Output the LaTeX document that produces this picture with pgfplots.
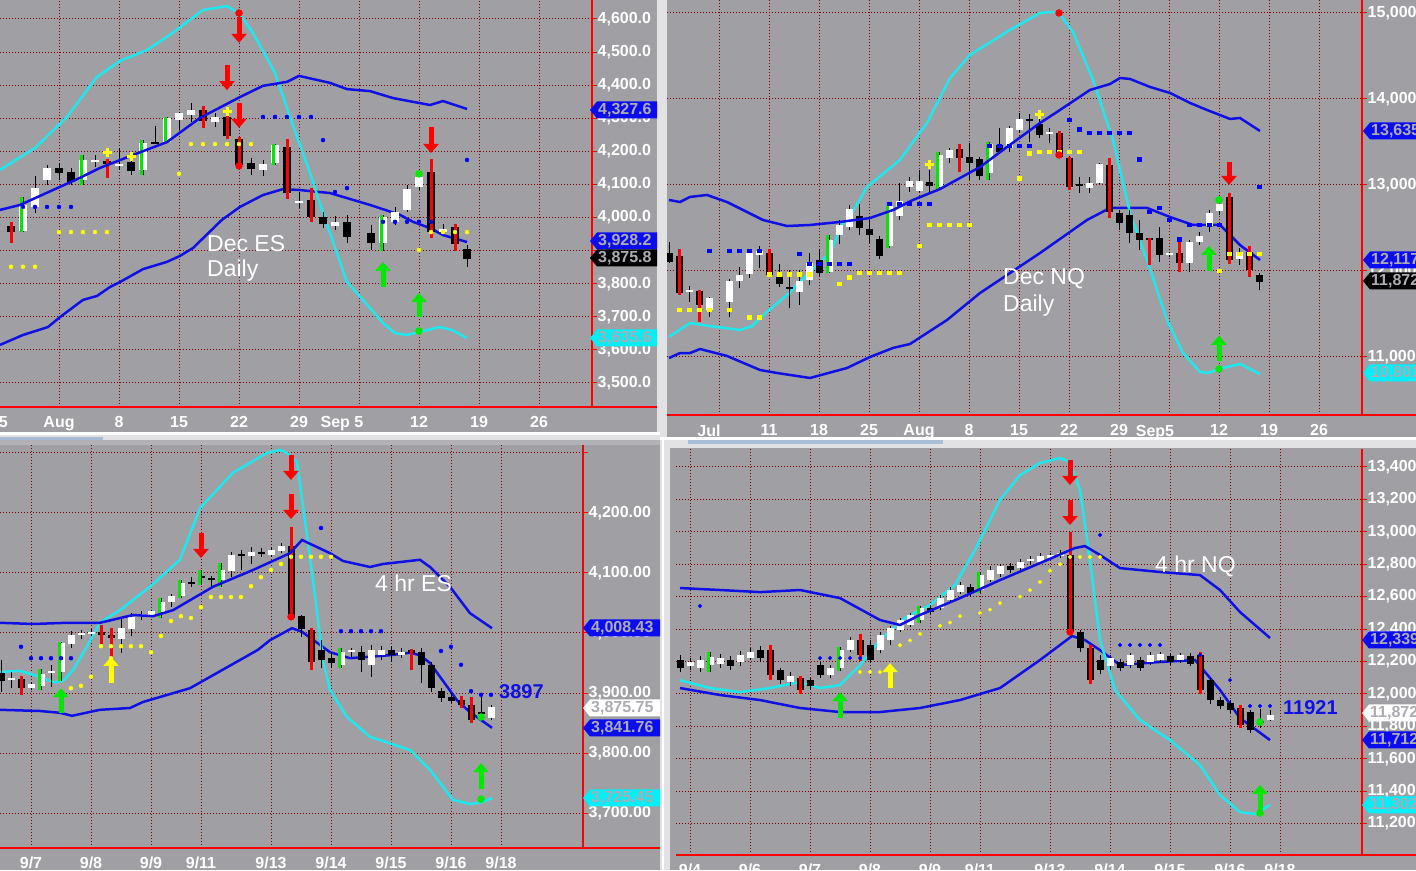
\documentclass[border=0pt]{standalone}
\usepackage{pgfplots}
\pgfplotsset{compat=1.18}
\usepackage{pgfplotstable}
\usepackage{fontspec}
\setmainfont{Liberation Sans}
\usetikzlibrary{arrows.meta}

\definecolor{bgc}{RGB}{160,160,164}
\definecolor{gridred}{RGB}{128,0,0}
\definecolor{bandblue}{RGB}{16,16,228}
\definecolor{bandcyan}{RGB}{30,232,238}
\definecolor{sigred}{RGB}{255,0,0}
\definecolor{siggreen}{RGB}{0,232,0}
\definecolor{dotblue}{RGB}{0,0,255}
\definecolor{dotyel}{RGB}{255,255,0}
\definecolor{sepc}{RGB}{226,226,228}
\definecolor{edge}{RGB}{178,178,182}
\definecolor{tagtxt}{RGB}{172,172,178}
\definecolor{tagblue}{RGB}{12,12,240}
\definecolor{tagcyan}{RGB}{0,240,250}
\definecolor{scroll}{RGB}{168,190,214}

\newcommand\lab{\fontsize{16}{18}\selectfont\bfseries}
\newcommand\ann{\fontsize{23}{26}\selectfont}
\newcommand\tgt{\fontsize{20}{22}\selectfont\bfseries}

% candles: x open high low close, s = 1 red signal wick, 2 green signal wick
\pgfplotstableread{
x o h l c s
-4 3974 3987 3923 3956 1
-3 3959 4062 3956 4038 2
-2 4032 4126 4014 4089 0
-1 4113 4159 4098 4150 0
0 4150 4165 4113 4135 0
1 4138 4150 4098 4107 0
2 4113 4189 4098 4174 2
3 4168 4189 4153 4174 0
4 4171 4177 4120 4162 1
5 4156 4210 4144 4162 0
6 4168 4180 4129 4141 0
7 4144 4234 4129 4225 2
8 4228 4277 4222 4222 0
9 4228 4304 4225 4301 2
10 4295 4319 4265 4316 0
11 4310 4346 4289 4325 0
12 4325 4337 4271 4292 1
13 4289 4316 4274 4304 0
14 4304 4331 4237 4246 1
15 4237 4243 4153 4159 1
16 4165 4180 4129 4147 0
17 4144 4174 4126 4162 0
18 4165 4222 4159 4219 2
19 4213 4237 4056 4074 1
20 4044 4077 4029 4050 0
21 4053 4089 3987 4002 1
22 4001 4017 3968 3979 0
23 3974 4005 3962 3987 0
24 3987 4008 3923 3941 0
26 3953 3977 3902 3923 0
27 3923 4008 3899 4002 2
28 3987 4032 3977 4017 0
29 4023 4098 4017 4086 0
30 4092 4132 4083 4123 0
31 4138 4177 3938 3956 1
32 3956 3980 3950 3965 0
33 3971 3980 3899 3920 1
34 3905 3917 3851 3876 0
}\esday

\pgfplotstableread{
x o h l c s
-4 12209 12337 12093 12105 0
-3 12174 12256 11721 11744 1
-2 11758 11826 11640 11778 0
-1 11767 11779 11407 11605 1
0 11547 11698 11465 11686 0
2 11640 11907 11465 11884 0
3 11884 12047 11802 11953 0
4 11965 12256 11919 12209 0
5 12186 12291 12035 12233 0
6 12209 12256 11930 11953 1
7 11930 12082 11814 11849 0
8 11812 12012 11570 11792 0
9 11756 12012 11605 11884 0
10 11895 12209 11837 12093 0
11 12128 12256 11942 11977 0
12 11988 12419 11977 12360 2
13 12419 12593 12314 12535 0
14 12512 12768 12477 12721 0
15 12640 12779 12419 12500 0
16 12488 12593 12326 12419 0
17 12372 12407 12140 12174 0
18 12291 12779 12267 12756 2
19 12640 13023 12593 12814 0
20 12977 13093 12919 13047 0
21 12930 13174 12919 13047 0
22 13035 13174 12907 12988 0
23 12977 13384 12942 13349 2
24 13314 13430 13256 13407 0
25 13419 13477 13151 13314 1
26 13326 13488 13058 13256 0
27 13302 13326 13058 13105 0
28 13140 13500 13058 13477 2
29 13465 13663 13372 13384 0
30 13430 13686 13384 13663 0
31 13640 13837 13616 13768 0
32 13766 13826 13500 13746 0
33 13709 13802 13546 13581 0
34 13595 13663 13488 13615 0
35 13605 13628 13314 13326 1
36 13314 13326 12942 12977 1
37 13010 13093 12907 12990 0
38 12965 13093 12907 13023 0
39 13023 13256 13012 13244 0
40 13233 13314 12616 12686 1
41 12675 12709 12477 12558 0
42 12651 12709 12326 12442 0
43 12442 12593 12244 12360 0
44 12384 12384 12070 12360 1
45 12384 12512 12105 12186 0
46 12188 12221 12163 12208 0
47 12209 12337 11989 12093 1
48 12093 12360 11989 12337 0
49 12337 12454 12302 12407 0
50 12523 12709 12454 12675 0
51 12698 12826 12651 12779 0
52 12860 12907 12082 12128 1
53 12140 12267 12070 12221 0
54 12221 12291 11930 12012 1
55 11953 11977 11779 11872 0
}\nqday

\pgfplotstableread{
x o h l c s
0 3933 3955 3902 3920 0
1 3922 3935 3908 3925 0
2 3923 3928 3897 3908 1
3 3908 3918 3905 3915 0
4 3912 3940 3905 3932 2
5 3933 3947 3910 3936 0
6 3935 3985 3920 3983 2
7 3982 4003 3975 3997 0
8 3997 4005 3990 4000 0
9 3998 4007 3995 4002 0
10 4002 4013 3982 3997 1
11 3997 4008 3960 3992 1
12 3990 4027 3967 4008 0
13 4007 4033 3995 4027 0
14 4029 4037 4022 4032 0
15 4030 4038 4027 4037 0
16 4035 4058 4025 4052 2
17 4052 4065 4043 4062 0
18 4062 4088 4058 4083 2
19 4085 4093 4077 4082 0
20 4095 4105 4080 4092 2
21 4092 4095 4077 4089 0
22 4088 4117 4077 4105 2
23 4103 4135 4093 4130 0
24 4132 4138 4105 4129 0
25 4128 4143 4115 4135 0
26 4135 4142 4127 4132 0
27 4130 4143 4127 4138 0
28 4137 4150 4133 4145 0
29 4145 4177 4022 4025 1
30 4028 4030 3993 4007 0
31 4005 4008 3938 3952 1
32 3972 3988 3942 3955 0
33 3958 3968 3942 3950 0
34 3947 3975 3942 3968 2
35 3968 3975 3960 3971 0
36 3968 3978 3935 3955 0
37 3947 3980 3927 3972 0
38 3963 3978 3955 3972 0
39 3972 3978 3952 3963 0
40 3963 3975 3958 3968 0
41 3972 3973 3938 3967 1
42 3968 3975 3917 3947 0
43 3947 3952 3902 3908 0
44 3903 3908 3885 3892 0
45 3893 3900 3883 3887 0
46 3888 3895 3875 3880 1
47 3880 3893 3850 3855 1
48 3868 3897 3855 3865 0
49 3858 3880 3855 3876 0
}\esfour

\pgfplotstableread{
x o h l c s
-10 12209 12240 12135 12160 0
-9 12172 12221 12147 12196 0
-8 12160 12233 12135 12209 0
-7 12178 12258 12135 12227 2
-6 12184 12246 12160 12221 0
-5 12209 12233 12147 12172 0
-4 12196 12264 12172 12240 0
-3 12221 12283 12209 12258 0
-2 12270 12295 12196 12221 0
-1 12270 12300 12085 12117 1
0 12147 12160 12060 12085 0
1 12073 12135 12048 12110 0
2 12097 12110 11999 12024 1
3 12085 12097 12024 12048 0
4 12178 12196 12097 12117 0
5 12117 12178 12097 12160 0
6 12160 12290 12140 12270 2
7 12270 12350 12258 12332 0
8 12332 12370 12200 12240 1
9 12300 12330 12190 12209 0
10 12270 12380 12250 12363 0
11 12332 12420 12300 12406 0
12 12394 12470 12380 12456 0
13 12425 12500 12410 12487 0
14 12456 12545 12440 12530 2
15 12530 12550 12490 12505 0
16 12530 12610 12515 12591 0
17 12579 12660 12560 12641 0
18 12630 12690 12615 12672 0
19 12660 12680 12600 12622 0
20 12641 12750 12620 12733 2
21 12702 12790 12690 12764 0
22 12740 12800 12720 12789 0
23 12789 12810 12745 12764 0
24 12776 12830 12760 12813 0
25 12818 12850 12800 12830 0
26 12813 12870 12800 12850 0
27 12838 12870 12830 12857 0
28 12850 12890 12840 12870 0
29 12857 13000 12382 12382 1
30 12382 12394 12260 12283 0
31 12283 12300 12060 12085 1
32 12209 12240 12120 12147 0
33 12172 12240 12150 12221 0
34 12196 12215 12140 12160 0
35 12178 12255 12160 12240 0
36 12209 12230 12140 12160 0
37 12196 12260 12180 12240 0
38 12209 12260 12190 12246 0
39 12233 12250 12180 12196 0
40 12209 12255 12190 12240 0
41 12233 12250 12170 12184 0
42 12240 12260 12000 12024 1
43 12085 12100 11940 11962 0
44 11962 11980 11905 11925 0
45 11944 11960 11880 11900 0
46 11913 11930 11790 11808 1
47 11888 11900 11760 11777 0
48 11830 11905 11790 11818 0
49 11839 11900 11830 11872 0
}\nqfour

\pgfplotsset{
  panel/.style={
    anchor=south west, scale only axis, clip=true,
    axis x line*=bottom, axis y line*=right,
    axis line style={draw=none},
    scaled ticks=false,
    tick align=outside, major tick length=5pt,
    xtick style={draw=none},
    ytick style={draw=red, line width=1pt},
    grid=major,
    grid style={draw=gridred, line width=1pt, dash pattern=on 1pt off 2pt},
    ticklabel style={font=\lab, text=white},
    xticklabel style={anchor=north, inner sep=0pt, yshift=-4pt},
    yticklabel style={anchor=west, inner sep=0pt, xshift=0.5pt},
  },
}

% wicks, bodies and signal wicks, all as error bars from the table
\newcommand\candles[2]{%
  \addplot[draw=none, mark=none, error bars/.cd, y dir=plus, y explicit, error mark=none,
    error bar style={draw=black, line width=1pt}]
    table[x=x, y=l, y error plus expr=\thisrow{h}-\thisrow{l}] {#1};
  \addplot[draw=none, mark=none, error bars/.cd, y dir=plus, y explicit, error mark=none,
    error bar style={draw=white, line width=#2}]
    table[x=x, y=o, y error plus expr={max(\thisrow{c}-\thisrow{o},0)}] {#1};
  \addplot[draw=none, mark=none, error bars/.cd, y dir=plus, y explicit, error mark=none,
    error bar style={draw=black, line width=#2}]
    table[x=x, y=c, y error plus expr={max(\thisrow{o}-\thisrow{c},0)}] {#1};
  \addplot[draw=none, mark=none, error bars/.cd, y dir=plus, y explicit, error mark=none,
    error bar style={draw=sigred, line width=3pt}]
    table[x=x, y=l, y error plus expr={(\thisrow{s}==1)*(\thisrow{h}-\thisrow{l})}] {#1};
  \addplot[draw=none, mark=none, error bars/.cd, y dir=plus, y explicit, error mark=none,
    error bar style={draw=siggreen, line width=3pt}]
    table[x expr=\thisrow{x}-0.12, y=l, y error plus expr={(\thisrow{s}==2)*(\thisrow{h}-\thisrow{l})}] {#1};
}

\newcommand\ptag[6]{%
  \fill[#4] (#1,870-#2) -- (#1+7,878.5-#2) -- (#3,878.5-#2) -- (#3,861.5-#2) -- (#1+7,861.5-#2) -- cycle;
  \node[anchor=west, inner sep=0pt, text=#5, font=\lab] at (#1+8,870-#2) {#6};}

\tikzset{
  dnarrow/.style={sigred, line width=5pt, -{Triangle[width=15pt,length=9pt]}},
  uparrow/.style={siggreen, line width=5pt, -{Triangle[width=15pt,length=9pt]}},
}

\begin{document}
\begin{tikzpicture}[x=1pt,y=1pt]
\useasboundingbox (0,0) rectangle (1416,870);
\clip (0,0) rectangle (1416,870);
\fill[bgc] (0,0) rectangle (1416,870);
% window frames between the four charts
\fill[sepc] (657,430) rectangle (667,870);
\fill[sepc] (0,425) rectangle (660,438);
\fill[white] (0,435) rectangle (660,438);
\fill[scroll] (0,430) rectangle (103,433);
\fill[edge] (0,425) rectangle (660,430);
\fill[sepc] (660,422) rectangle (1416,433);
\fill[white] (660,430) rectangle (1416,433);
\fill[scroll] (688,426) rectangle (943,430);
\fill[sepc] (660,0) rectangle (670,430);
\fill[white] (662,0) rectangle (664,430);

% ---------------- Dec ES daily ----------------
\begin{axis}[panel, at={(0pt,463pt)}, width=592pt, height=407pt,
  xmin=-4.9167, xmax=44.4167, ymin=3427.4, ymax=4657.4,
  xtick={0,5,10,15,20,25,30,35,40},
  xticklabels={Aug,8,15,22,29,{},12,19,26},
  ytick={3500,3600,3700,3800,3900,4000,4100,4200,4300,4400,4500,4600},
  yticklabels={{3,500.0},{3,600.0},{3,700.0},{3,800.0},{3,900.0},{4,000.0},{4,100.0},{4,200.0},{4,300.0},{4,400.0},{4,500.0},{4,600.0}}]
\addplot[bandblue, line width=2.5pt] coordinates {(-4.92,3615) (-3,3645) (-0.92,3669) (0.08,3699) (2,3751) (3.17,3763) (4.25,3790) (5.08,3805) (7,3844) (9,3866) (10.08,3884) (11.17,3908) (13.58,3993) (15.08,4032) (17,4068) (18.67,4086) (20.08,4083) (22.58,4074) (25.92,4038) (28.42,4008) (29.5,3987) (30.92,3968) (32,3947) (34,3926)};
\addplot[bandcyan, line width=2.5pt] coordinates {(-4.92,4144) (-2,4210) (0.67,4304) (3.17,4425) (5.08,4473) (7.33,4506) (9.25,4552) (12,4627) (14,4639) (15,4618) (16.17,4558) (18,4437) (19.25,4304) (20.92,4135) (22.17,3993) (22.58,3953) (24,3805) (25.33,3751) (27,3681) (28,3651) (29,3645) (30,3654) (31.75,3669) (32.75,3660) (34,3636)};
\candles{\esday}{8pt}
\addplot[bandblue, line width=2.5pt] coordinates {(-4.92,4023) (-3.25,4038) (1.75,4120) (3.42,4150) (6.17,4189) (9,4228) (11.75,4301) (15.08,4364) (17,4398) (19,4410) (20,4428) (22.58,4407) (24,4388) (25.92,4382) (27.83,4361) (30.92,4340) (32,4352) (34,4328)};
\addplot[only marks, mark=*, mark size=2pt, dotblue] coordinates {(-3,4032) (-2,4032) (-1,4032) (0,4032) (1,4032) (17,4304) (18,4304) (19,4304) (20,4304) (21,4304) (22,4234) (23,4077) (24,4089) (27,3987) (28,3987) (29,3987) (30,3987) (31,3987) (34,4174)};
\addplot[only marks, mark=*, mark size=2pt, dotyel] coordinates {(-5,3851) (-4,3851) (-3,3851) (-2,3851) (0,3956) (1,3956) (2,3956) (3,3956) (4,3956) (10,4132) (11,4222) (12,4222) (13,4222) (14,4222) (15,4222) (16,4222) (30,3902) (31,3956) (32,3956) (33,3956) (34,3956)};
\addplot[only marks, mark=+, mark size=4.5pt, line width=3pt, dotyel] coordinates {(4,4198) (6,4183) (14,4319)};
\addplot[only marks, mark=*, mark size=3.5pt, sigred] coordinates {(15,4618) (15,4156)};
\addplot[only marks, mark=*, mark size=3.5pt, siggreen] coordinates {(30,4132) (30,3657)};
\addplot[dnarrow, quiver={u=0, v=\thisrow{v}}] table[row sep=\\] {x y v\\ 15 4606 -78\\ 14 4461 -76\\ 15 4346 -75\\ 31 4274 -79\\};
\addplot[uparrow, quiver={u=0, v=\thisrow{v}}] table[row sep=\\] {x y v\\ 27 3790 76\\ 30 3699 73\\};
\end{axis}
\draw[red, line width=1.5pt] (592,870) -- (592,463) (0,463) -- (657,463);
\draw[gridred, line width=1pt, dash pattern=on 1pt off 2pt] (-1,463) -- (-1,870);
\node[anchor=north, inner sep=0pt, text=white, font=\lab] at (-1,454) {25};
\node[anchor=north, inner sep=0pt, text=white, font=\lab] at (342,454) {Sep 5};
\node[anchor=base west, inner sep=0pt, text=white, font=\ann] at (207,618) {Dec ES};
\node[anchor=base west, inner sep=0pt, text=white, font=\ann] at (207,593) {Daily};
\ptag{590}{110}{657}{tagblue}{tagtxt}{4,327.6}
\ptag{590}{241}{657}{tagblue}{tagtxt}{3,928.2}
\ptag{590}{258}{657}{black}{tagtxt}{3,875.8}
\ptag{590}{338}{657}{tagcyan}{tagtxt}{3,635.6}

% ---------------- Dec NQ daily ----------------
\begin{axis}[panel, at={(667pt,455pt)}, width=695pt, height=415pt,
  xmin=-4.2, xmax=65.3, ymin=10325.6, ymax=15151.2,
  xtick={1,6,11,16,21,26,31,36,41,46,51,56,61},
  xticklabels={{},11,18,25,Aug,8,15,22,29,{},12,19,26},
  ytick={11000,12000,13000,14000,15000},
  yticklabels={{11,000},{12,000},{13,000},{14,000},{15,000}}]
\addplot[bandblue, line width=2.5pt] coordinates {(-4,10988) (-2.9,11046) (-1.9,11046) (-0.9,11093) (1.8,11012) (5.1,10849) (6.8,10814) (10.1,10756) (13.8,10872) (16.1,11000) (18.4,11105) (20.1,11151) (23.8,11430) (27.1,11744) (33.1,12209) (37.8,12593) (40.1,12733) (43.8,12733) (46.1,12628) (48.4,12535) (51.1,12535) (53.1,12302) (55.1,12128)};
\addplot[bandcyan, line width=2.5pt] coordinates {(-4,11233) (-1.9,11395) (0.1,11360) (3.1,11314) (4.3,11360) (5.8,11523) (7.8,11721) (10.1,11988) (12.1,12209) (13.4,12558) (13.9,12593) (15.8,12977) (19.1,13291) (21.8,13721) (24.1,14244) (26.1,14512) (30.1,14803) (33.1,15000) (34.1,15012) (35,15000) (36.4,14779) (38.4,14221) (40.4,13523) (42.1,12675) (43.8,12128) (45.8,11430) (47.4,11047) (49.1,10826) (49.9,10814) (51,10861) (53.1,10919) (55.1,10802)};
\candles{\nqday}{7pt}
\addplot[bandblue, line width=2.5pt] coordinates {(-4,12826) (-2.9,12802) (-1.9,12861) (-0.2,12884) (1.8,12802) (5.4,12593) (7.8,12523) (10.1,12535) (13.1,12570) (16.1,12616) (18.4,12709) (20.4,12826) (23.1,12953) (25.1,13081) (27.1,13209) (29.8,13442) (33.1,13721) (34.8,13849) (38.1,14105) (40.1,14174) (41.1,14244) (42.1,14233) (44.1,14140) (46.1,14070) (48.1,13954) (49.8,13872) (52.1,13768) (53.1,13779) (55.1,13628)};
\addplot[only marks, mark=square*, mark size=1.7pt, dotblue] coordinates {(0,12233) (2,12233) (3,12233) (4,12233) (5,12233) (9,12198) (10,12082) (11,12082) (12,12082) (13,12082) (14,12082) (18,12779) (19,12779) (20,12779) (21,12779) (22,12779) (28,13454) (29,13454) (30,13454) (31,13454) (32,13454) (36,13756) (37,13651) (38,13605) (39,13605) (40,13605) (41,13605) (42,13605) (43,13302) (44,12686) (45,12733) (46,12593) (47,12372) (48,12535) (49,12535) (50,12535) (51,12535) (55,12977)};
\addplot[only marks, mark=square*, mark size=1.7pt, dotyel] coordinates {(-3,11547) (-2,11547) (-1,11547) (0,11547) (2,11547) (4,11465) (5,11465) (6,11965) (7,11965) (8,11965) (9,11965) (10,11965) (13,11849) (14,11930) (15,11977) (16,11977) (17,11977) (18,11977) (19,11977) (21,12291) (22,12535) (23,12535) (24,12535) (25,12535) (26,12535) (31,13081) (32,13372) (33,13384) (34,13384) (35,13384) (36,13384) (37,13384) (51,12000) (52,12198) (53,12198) (54,12198) (55,12198)};
\addplot[only marks, mark=+, mark size=4.5pt, line width=3pt, dotyel] coordinates {(22,13244) (33,13814)};
\addplot[only marks, mark=*, mark size=3.5pt, sigred] coordinates {(35,15000) (35,13349)};
\addplot[only marks, mark=*, mark size=3.5pt, siggreen] coordinates {(51,12826) (51,10861)};
\addplot[dnarrow, quiver={u=0, v=\thisrow{v}}] table[row sep=\\] {x y v\\ 52 13267 -267\\};
\addplot[uparrow, quiver={u=0, v=\thisrow{v}}] table[row sep=\\] {x y v\\ 50 12000 291\\ 51 10956 291\\};
\end{axis}
\draw[red, line width=1.5pt] (1362,870) -- (1362,455) (667,455) -- (1416,455);
\node[anchor=north, inner sep=0pt, text=white, font=\lab] at (709,445) {Jul};
\node[anchor=north, inner sep=0pt, text=white, font=\lab] at (1155,445) {Sep5};
\node[anchor=base west, inner sep=0pt, text=white, font=\ann] at (1003,585) {Dec NQ};
\node[anchor=base west, inner sep=0pt, text=white, font=\ann] at (1003,558) {Daily};
\ptag{1363}{131}{1420}{tagblue}{tagtxt}{13,635}
\ptag{1363}{260}{1420}{tagblue}{tagtxt}{12,117}
\ptag{1363}{281}{1420}{black}{tagtxt}{11,872}
\ptag{1363}{373}{1420}{tagcyan}{tagtxt}{10,801}

% ---------------- 4 hr ES ----------------
\begin{axis}[panel, at={(0pt,22pt)}, width=583pt, height=403pt,
  xmin=-0.1, xmax=58.2, ymin=3641.7, ymax=4313.3,
  xtick={3,9,15,20,27,33,39,45,50},
  xticklabels={9/7,9/8,9/9,9/11,9/13,9/14,9/15,9/16,9/18},
  ytick={3700,3800,3900,4000,4100,4200,4300},
  yticklabels={{3,700.00},{3,800.00},{3,900.00},{4,000.00},{4,100.00},{4,200.00},{}}]
\addplot[bandblue, line width=2.5pt] coordinates {(-0.1,3872) (3.9,3870) (5.9,3867) (7.1,3862) (9.9,3872) (12.9,3875) (14.2,3885) (18.9,3908) (23.9,3955) (25.7,3972) (26.9,3988) (29.1,4008) (30.1,4002) (32.9,3968) (34.9,3958) (38.9,3963) (40.9,3967) (41.9,3963) (42.9,3950) (45.6,3888) (46.9,3868) (49.1,3842)};
\addplot[bandcyan, line width=2.5pt] coordinates {(-0.1,3935) (1.9,3937) (3.9,3927) (5.2,3918) (6.2,3920) (7.2,3938) (8.4,3972) (9.9,4017) (11.9,4038) (14.9,4077) (17.9,4122) (19.9,4208) (23.2,4267) (26.6,4300) (27.9,4305) (28.6,4300) (29.6,4285) (31.2,4088) (32.2,3955) (32.9,3905) (34.6,3860) (36.9,3827) (40.9,3805) (42.9,3772) (45.2,3722) (46.9,3715) (48.1,3718) (49.1,3725)};
\candles{\esfour}{7pt}
\addplot[bandblue, line width=2.5pt] coordinates {(-0.1,4017) (3.2,4015) (6.6,4017) (9.9,4017) (13.2,4030) (15.2,4028) (17.2,4038) (21.2,4077) (25.2,4105) (28.9,4133) (30.1,4155) (32.9,4133) (34.2,4120) (36.9,4110) (38.2,4115) (41.9,4122) (42.9,4110) (44.9,4077) (46.9,4033) (49.1,4008)};
\addplot[only marks, mark=*, mark size=2pt, dotblue] coordinates {(2,3977) (3,3958) (4,3958) (5,3958) (6,3958) (7,3958) (32,4175) (34,4003) (35,4003) (36,4003) (37,4003) (38,4003) (44,3970) (45,3977) (46,3947) (47,3903) (48,3897) (49,3897)};
\addplot[only marks, mark=*, mark size=2pt, dotyel] coordinates {(7,3908) (8,3912) (9,3927) (10,3978) (11,3978) (12,3978) (13,3978) (14,3978) (11,3958) (15,3968) (16,3995) (17,4020) (18,4028) (19,4025) (20,4043) (21,4060) (22,4060) (23,4060) (24,4060) (25,4078) (26,4093) (27,4105) (28,4115) (29,4127) (30,4127) (31,4127) (32,4127) (33,4127)};
\addplot[only marks, mark=*, mark size=3.5pt, sigred] coordinates {(29,4027)};
\addplot[only marks, mark=*, mark size=3.5pt, siggreen] coordinates {(48,3860) (48,3723)};
\addplot[dnarrow, quiver={u=0, v=\thisrow{v}}] table[row sep=\\] {x y v\\ 29 4297 -42\\ 29 4232 -42\\ 20 4167 -42\\};
\addplot[uparrow, quiver={u=0, v=\thisrow{v}}] table[row sep=\\] {x y v\\ 6 3867 41\\ 48 3740 43\\};
\addplot[uparrow, dotyel, quiver={u=0, v=\thisrow{v}}] table[row sep=\\] {x y v\\ 11 3917 43\\};
\end{axis}
\draw[red, line width=1.5pt] (583,425) -- (583,22) (0,22) -- (660,22);
\node[anchor=base west, inner sep=0pt, text=white, font=\ann] at (375,278) {4 hr ES};
\node[anchor=base west, inner sep=0pt, text=bandblue, font=\tgt] at (499,171) {3897};
\ptag{583}{628}{660}{tagblue}{tagtxt}{4,008.43}
\ptag{583}{708}{660}{white}{tagtxt}{3,875.75}
\ptag{583}{728}{660}{tagblue}{tagtxt}{3,841.76}
\ptag{583}{798}{660}{tagcyan}{tagtxt}{3,725.45}

% ---------------- 4 hr NQ ----------------
\begin{axis}[panel, at={(676pt,15pt)}, width=686pt, height=406pt,
  xmin=-10.4, xmax=58.2, ymin=11006, ymax=13511,
  xtick={-9,-3,3,9,15,20,27,33,39,45,50},
  xticklabels={9/4,9/6,9/7,9/8,9/9,9/11,9/13,9/14,9/15,9/16,9/18},
  ytick={11200,11400,11600,11800,12000,12200,12400,12600,12800,13000,13200,13400},
  yticklabels={{11,200},{11,400},{11,600},{11,800},{12,000},{12,200},{12,400},{12,600},{12,800},{13,000},{13,200},{13,400}}]
\addplot[bandblue, line width=2.5pt] coordinates {(-10,12036) (-6,11993) (-2,11962) (2,11913) (6,11888) (10,11888) (14,11913) (18,11962) (22,12036) (26,12209) (29.2,12357) (30.5,12332) (32,12270) (34,12178) (38,12197) (41.5,12209) (44,12024) (46,11851) (49,11715)};
\addplot[bandcyan, line width=2.5pt] coordinates {(-10,12085) (-7,12036) (-4,12011) (-1,12036) (2,12073) (4,12036) (6,12054) (8,12178) (10,12332) (12.5,12468) (15,12548) (17.5,12672) (19.5,12888) (22,13196) (24,13350) (26,13424) (28,13455) (29,13430) (30,13258) (31,12826) (32,12332) (33.5,12024) (36,11839) (39,11715) (42,11561) (44,11376) (46,11271) (47.5,11259) (49,11314)};
\candles{\nqfour}{7pt}
\addplot[bandblue, line width=2.5pt] coordinates {(-10,12653) (-6,12641) (-2,12628) (2,12641) (6,12591) (10,12456) (12,12425) (14,12487) (18,12591) (22,12702) (26,12807) (29.5,12900) (30.5,12912) (32,12857) (34,12776) (38,12752) (42,12733) (44,12641) (46,12505) (49,12345)};
\addplot[only marks, mark=*, mark size=1.8pt, dotblue] coordinates {(-8,12542) (4,12221) (5,12221) (6,12221) (7,12221) (8,12221) (32,12980) (34,12302) (35,12302) (36,12302) (37,12302) (38,12302) (42,12240) (45,12085) (47,11925) (48,11925) (49,11925)};
\addplot[only marks, mark=*, mark size=1.8pt, dotyel] coordinates {(8,12135) (9,12135) (10,12135) (12,12300) (13,12330) (14,12370) (16,12420) (17,12440) (18,12480) (20,12500) (21,12520) (22,12560) (24,12600) (25,12640) (26,12690) (27,12760) (28,12800) (29,12845) (30,12845) (31,12845) (32,12845)};
\addplot[only marks, mark=*, mark size=3.5pt, sigred] coordinates {(29,12382)};
\addplot[only marks, mark=*, mark size=3.5pt, siggreen] coordinates {(48,11826) (48,11265)};
\addplot[dnarrow, quiver={u=0, v=\thisrow{v}}] table[row sep=\\] {x y v\\ 29 13443 -154\\ 29 13196 -154\\};
\addplot[uparrow, quiver={u=0, v=\thisrow{v}}] table[row sep=\\] {x y v\\ 6 11851 160\\ 48 11283 155\\};
\addplot[uparrow, dotyel, quiver={u=0, v=\thisrow{v}}] table[row sep=\\] {x y v\\ 11 12036 154\\};
\end{axis}
\draw[red, line width=1.5pt] (1362,421) -- (1362,15) (676,15) -- (1416,15);
\node[anchor=base west, inner sep=0pt, text=white, font=\ann] at (1155,297) {4 hr NQ};
\node[anchor=base west, inner sep=0pt, text=bandblue, font=\tgt] at (1283,155) {11921};
\ptag{1362}{640}{1420}{tagblue}{tagtxt}{12,339}
\ptag{1362}{713}{1420}{white}{tagtxt}{11,872}
\ptag{1362}{740}{1420}{tagblue}{tagtxt}{11,712}
\ptag{1362}{805}{1420}{tagcyan}{tagtxt}{11,302}
\end{tikzpicture}
\end{document}
